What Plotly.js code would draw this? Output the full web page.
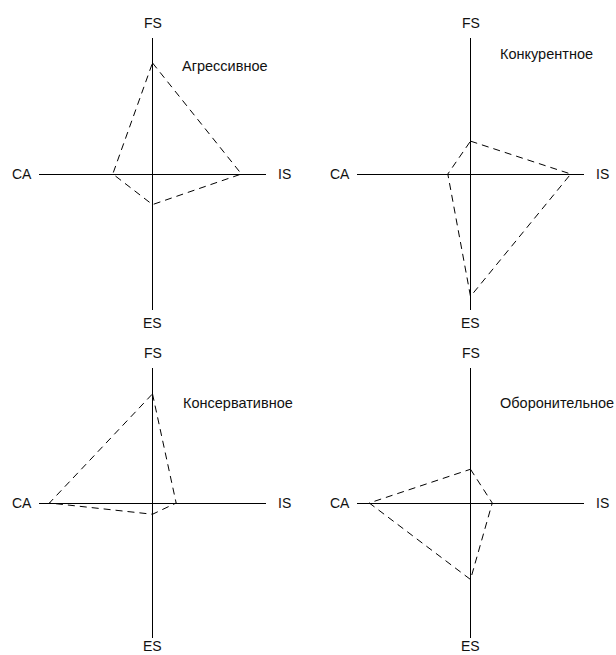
<!DOCTYPE html>
<html>
<head>
<meta charset="utf-8">
<script src="https://cdn.plot.ly/plotly-3.0.1.min.js"></script>
<style>html,body{margin:0;padding:0;background:#fff;}#chart{width:616px;height:655px;}</style>
</head>
<body>
<div id="chart"></div>
<script>
// Strategy names (panel titles)
const strategies = ["Агрессивное", "Конкурентное", "Консервативное", "Оборонительное"];
// Axis labels
const axisLabels = {top: "FS", bottom: "ES", left: "CA", right: "IS"};
// Values per strategy on a -6..6 scale
const fsValues = [4.9, 1.45, 4.85, 1.5];
const isValues = [4.7, 5.3, 1.25, 1.15];
const esValues = [-1.35, -5.4, -0.5, -3.4];
const caValues = [-2.1, -1.2, -5.45, -5.35];

const W = 616, H = 655;
// panel geometry in pixels (left, right, top, bottom of axis cross)
const panels = [
  {l: 39, r: 266, t: 38, b: 310, esOff: 13},
  {l: 357, r: 584, t: 38, b: 310, esOff: 13},
  {l: 39, r: 266, t: 368, b: 638, esOff: 8},
  {l: 357, r: 584, t: 368, b: 638, esOff: 8}
];
const titlePos = [[180, 66], [498, 54], [181, 403], [498, 403]];

const traces = [];
const layout = {
  width: W, height: H,
  margin: {l: 0, r: 0, t: 0, b: 0},
  paper_bgcolor: "#fff", plot_bgcolor: "rgba(0,0,0,0)",
  showlegend: false,
  font: {family: "Liberation Sans, Arial, sans-serif", size: 14, color: "#111"},
  annotations: []
};

panels.forEach((p, i) => {
  const n = i + 1;
  const xa = n === 1 ? "x" : "x" + n;
  const ya = n === 1 ? "y" : "y" + n;
  traces.push({
    type: "scatter", mode: "lines",
    x: [0, isValues[i], 0, caValues[i], 0],
    y: [fsValues[i], 0, esValues[i], 0, fsValues[i]],
    xaxis: xa, yaxis: ya,
    line: {color: "#000", width: 1, dash: "7px,5px"},
    hoverinfo: "skip", cliponaxis: false
  });
  const axCommon = {range: [-6, 6], showgrid: false, showticklabels: false, ticks: "",
    zeroline: true, zerolinecolor: "#000", zerolinewidth: 1, showline: false, fixedrange: true};
  layout["xaxis" + (n === 1 ? "" : n)] = Object.assign({}, axCommon, {
    domain: [p.l / W, p.r / W], anchor: ya
  });
  layout["yaxis" + (n === 1 ? "" : n)] = Object.assign({}, axCommon, {
    domain: [1 - p.b / H, 1 - p.t / H], anchor: xa
  });
  const cx = (p.l + p.r) / 2, cy = (p.t + p.b) / 2;
  const ann = (text, x, y, xanchor, size) => layout.annotations.push({
    text: text, xref: "paper", yref: "paper", x: x / W, y: 1 - y / H,
    xanchor: xanchor || "center", yanchor: "middle", showarrow: false,
    font: {size: size || 14}
  });
  ann(axisLabels.top, cx, p.t - 15);
  ann(axisLabels.bottom, cx, p.b + p.esOff);
  ann(axisLabels.left, p.l - 17, cy);
  ann(axisLabels.right, p.r + 18, cy);
  ann(strategies[i], titlePos[i][0], titlePos[i][1], "left", 14.5);
});

Plotly.newPlot("chart", traces, layout, {staticPlot: true, displayModeBar: false});
</script>
</body>
</html>
